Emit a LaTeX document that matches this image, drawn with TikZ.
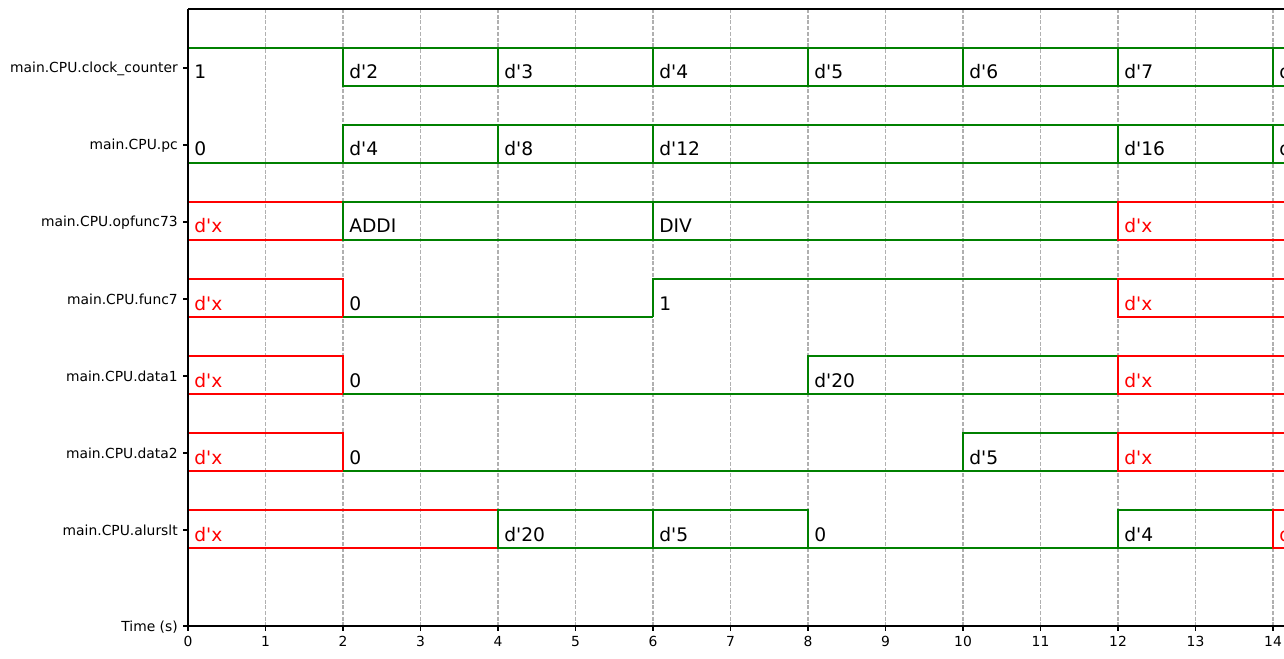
\documentclass[tikz,border=0pt]{standalone}
\usepackage{fontspec}
\setmainfont{DejaVu Sans}[Ligatures=TeXOff]
\definecolor{WGreen}{HTML}{008000}
\definecolor{WRed}{HTML}{FF0000}
\definecolor{WGrid}{HTML}{B0B0B0}

% one value of a signal: name, row y, from, to (in time units), text
\newcommand{\wbus}[5]{%
  \draw[wave, draw=WGreen] ({188+77.5*#3},#2-20) rectangle ({188+77.5*#4},#2+18);
  \node[val] (#1) at ({194+77.5*#3},#2+11) {#5};}
\newcommand{\wunk}[4]{%
  \draw[wave, draw=WRed] ({188+77.5*#3},#2-20) rectangle ({188+77.5*#4},#2+18);
  \node[val, text=WRed] (#1) at ({194+77.5*#3},#2+11) {d'x};}
\newcommand{\wlow}[5]{%
  \draw[wave, draw=WGreen] ({188+77.5*#3},#2+18) -- ({188+77.5*#4},#2+18);
  \node[val] (#1) at ({194+77.5*#3},#2+11) {#5};}
\newcommand{\whigh}[5]{%
  \draw[wave, draw=WGreen] ({188+77.5*#3},#2+18) -- ({188+77.5*#3},#2-20) -- ({188+77.5*#4},#2-20);
  \node[val] (#1) at ({194+77.5*#3},#2+11) {#5};}

\begin{document}
\begin{tikzpicture}[x=0.75pt, y=-0.75pt,
  every node/.style={font=\fontsize{10.4}{12}\selectfont, inner sep=0pt},
  wave/.style={line width=1.5pt},
  val/.style={font=\fontsize{14}{16}\selectfont, anchor=base west},
  gridline/.style={draw=WGrid, line width=0.8pt, dash pattern=on 3pt off 1.3pt},
  spine/.style={draw=black, line width=0.8pt},
]
\useasboundingbox (0,0) rectangle (1284,659);
\begin{scope}
\clip (0,0) rectangle (1284,659);
\foreach \t in {1,...,14} {\draw[gridline] ({188+77.5*\t},9) -- ({188+77.5*\t},626);}

% clock_counter
\whigh{cc0}{68}{0}{2}{1}
\wbus{cc1}{68}{2}{4}{d'2}
\wbus{cc2}{68}{4}{6}{d'3}
\wbus{cc3}{68}{6}{8}{d'4}
\wbus{cc4}{68}{8}{10}{d'5}
\wbus{cc5}{68}{10}{12}{d'6}
\wbus{cc6}{68}{12}{14}{d'7}
\wbus{cc7}{68}{14}{16}{d}
% pc
\wlow{pc0}{145}{0}{2}{0}
\wbus{pc1}{145}{2}{4}{d'4}
\wbus{pc2}{145}{4}{6}{d'8}
\wbus{pc3}{145}{6}{12}{d'12}
\wbus{pc4}{145}{12}{14}{d'16}
\wbus{pc5}{145}{14}{16}{d}
% opfunc73
\wunk{op0}{222}{0}{2}
\wbus{op1}{222}{2}{6}{ADDI}
\wbus{op2}{222}{6}{12}{DIV}
\wunk{op3}{222}{12}{16}
% func7
\wunk{fs0}{299}{0}{2}
\wlow{fs1}{299}{2}{6}{0}
\whigh{fs2}{299}{6}{12}{1}
\wunk{fs3}{299}{12}{16}
% data1
\wunk{da0}{376}{0}{2}
\wlow{da1}{376}{2}{8}{0}
\wbus{da2}{376}{8}{12}{d'20}
\wunk{da3}{376}{12}{16}
% data2
\wunk{db0}{453}{0}{2}
\wlow{db1}{453}{2}{10}{0}
\wbus{db2}{453}{10}{12}{d'5}
\wunk{db3}{453}{12}{16}
% alurslt
\wunk{al0}{530}{0}{4}
\wbus{al1}{530}{4}{6}{d'20}
\wbus{al2}{530}{6}{8}{d'5}
\wlow{al3}{530}{8}{12}{0}
\wbus{al4}{530}{12}{14}{d'4}
\wunk{al5}{530}{14}{16}

% axes
\draw[spine] (188,9) -- (1290,9);
\draw[spine] (188,9) -- (188,626) -- (1290,626);
\foreach \y/\lab [count=\i] in {68/main.CPU.clock\_counter, 145/main.CPU.pc,
    222/main.CPU.opfunc73, 299/main.CPU.func7, 376/main.CPU.data1,
    453/main.CPU.data2, 530/main.CPU.alurslt, 626/Time (s)} {
  \draw[spine] (183,\y) -- (188,\y);
  \node[anchor=base east] (ylab\i) at (178,\y+5) {\lab};
}
\foreach \t in {0,...,14} {
  \draw[spine] ({188+77.5*\t},626) -- ({188+77.5*\t},631);
  \node[anchor=base] (xlab\t) at ({188+77.5*\t},646.5) {\t};
}
\end{scope}
\end{tikzpicture}
\end{document}
